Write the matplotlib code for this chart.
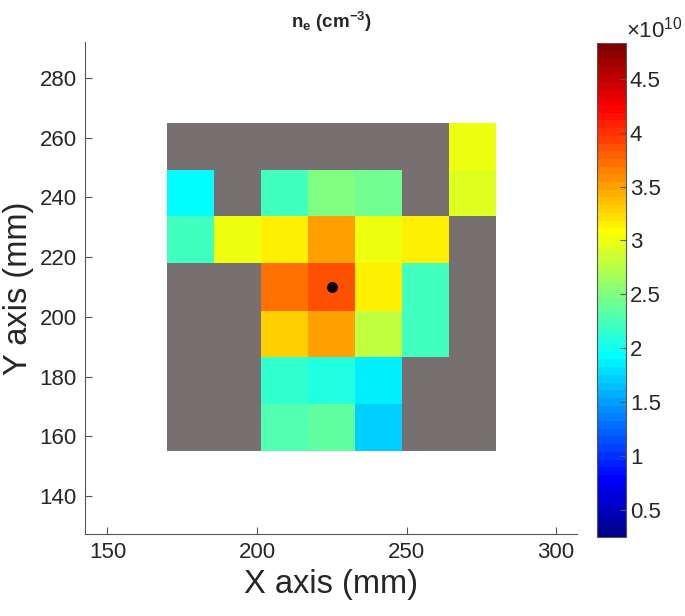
import numpy as np
import matplotlib
matplotlib.use("Agg")
import matplotlib.pyplot as plt
from matplotlib.colors import ListedColormap, Normalize

plt.rcParams['font.family'] = ['Liberation Sans', 'DejaVu Sans']
plt.rcParams['mathtext.fontset'] = 'custom'
plt.rcParams['mathtext.rm'] = 'Liberation Sans'
plt.rcParams['mathtext.bf'] = 'Liberation Sans:bold'
plt.rcParams['mathtext.it'] = 'Liberation Sans:italic'

# ---- data ----
x_edges = [170.0, 185.7, 201.4, 217.1, 232.9, 248.6, 264.3, 280.0]
y_edges = [265.0, 249.3, 233.6, 217.9, 202.1, 186.4, 170.7, 155.0]  # top -> bottom
nan = np.nan
# electron density in units of 1e10 cm^-3, rows top -> bottom
ne_row1 = [nan, nan, nan, nan, nan, nan, 3.01]
ne_row2 = [1.93, nan, 2.22, 2.51, 2.44, nan, 2.94]
ne_row3 = [2.22, 3.01, 3.18, 3.51, 3.01, 3.18, nan]
ne_row4 = [nan, nan, 3.72, 3.86, 3.15, 2.22, nan]
ne_row5 = [nan, nan, 3.29, 3.51, 2.80, 2.22, nan]
ne_row6 = [nan, nan, 2.15, 2.08, 1.86, nan, nan]
ne_row7 = [nan, nan, 2.29, 2.36, 1.72, nan, nan]
probe_x = [225.0]
probe_y = [210.0]
c_min, c_max = 0.25, 4.83
cbar_ticks = [0.5, 1, 1.5, 2, 2.5, 3, 3.5, 4, 4.5]
x_ticks = [150, 200, 250, 300]
y_ticks = [140, 160, 180, 200, 220, 240, 260, 280]

# ---- MATLAB jet(64) ----
def matlab_jet(m=64):
    n = int(np.ceil(m / 4))
    u = np.concatenate([np.arange(1, n + 1) / n, np.ones(n - 1), np.arange(n, 0, -1) / n])
    g = int(np.ceil(n / 2)) - (1 if m % 4 == 1 else 0) + np.arange(1, len(u) + 1)
    r = g + n
    b = g - n
    J = np.zeros((m, 3))
    ok = r <= m
    J[r[ok] - 1, 0] = u[ok]
    ok = g <= m
    J[g[ok] - 1, 1] = u[ok]
    ok = b >= 1
    J[b[ok] - 1, 2] = u[ok]
    return J

cmap = ListedColormap(matlab_jet(64))
cmap.set_bad('#767170')

Z = np.ma.masked_invalid(np.array([ne_row1, ne_row2, ne_row3, ne_row4,
                                   ne_row5, ne_row6, ne_row7]))

fig = plt.figure(figsize=(6.85, 6.16), dpi=100)
ax = fig.add_axes([85/685, 1 - 534/616, 492/685, 492/616])
mesh = ax.pcolormesh(x_edges, y_edges, Z, cmap=cmap,
                     norm=Normalize(vmin=c_min, vmax=c_max), shading='flat')
ax.plot(probe_x, probe_y, 'o', color='black', markersize=6.8)

ax.set_xlim(142.5, 307.0)
ax.set_ylim(127.3, 292.0)
ax.set_xticks(x_ticks)
ax.set_yticks(y_ticks)
axcol = '#555555'
for s in ['top', 'right']:
    ax.spines[s].set_visible(False)
for s in ['left', 'bottom']:
    ax.spines[s].set_color(axcol)
    ax.spines[s].set_linewidth(0.8)
ax.tick_params(direction='in', length=5, width=0.8, color=axcol,
               labelsize=16, labelcolor='#262626', pad=6)
ax.set_xlabel('X axis (mm)', fontsize=23.5, color='#262626', labelpad=4)
ax.set_ylabel('Y axis (mm)', fontsize=23.5, color='#262626', labelpad=4)
ax.set_title(r'$\mathbf{n_e}$ $\mathbf{(cm^{-3})}$', fontsize=13.5,
             color='#262626', pad=10)

cax = fig.add_axes([597.3/685, 1 - 536.7/616, 28.4/685, 493.4/616])
cb = fig.colorbar(mesh, cax=cax, ticks=cbar_ticks)
cb.ax.set_yticklabels([f'{t:g}' for t in cbar_ticks])
cb.outline.set_edgecolor(axcol)
cb.outline.set_linewidth(0.8)
cb.ax.tick_params(direction='in', length=4, width=0.8, color=axcol,
                  labelsize=16, labelcolor='#262626', pad=3)
fig.text(626/685, 1 - 30/616, r'$\times$10$^{10}$', fontsize=16,
         color='#262626', ha='left', va='center')

fig.savefig('out.png', dpi=100)
